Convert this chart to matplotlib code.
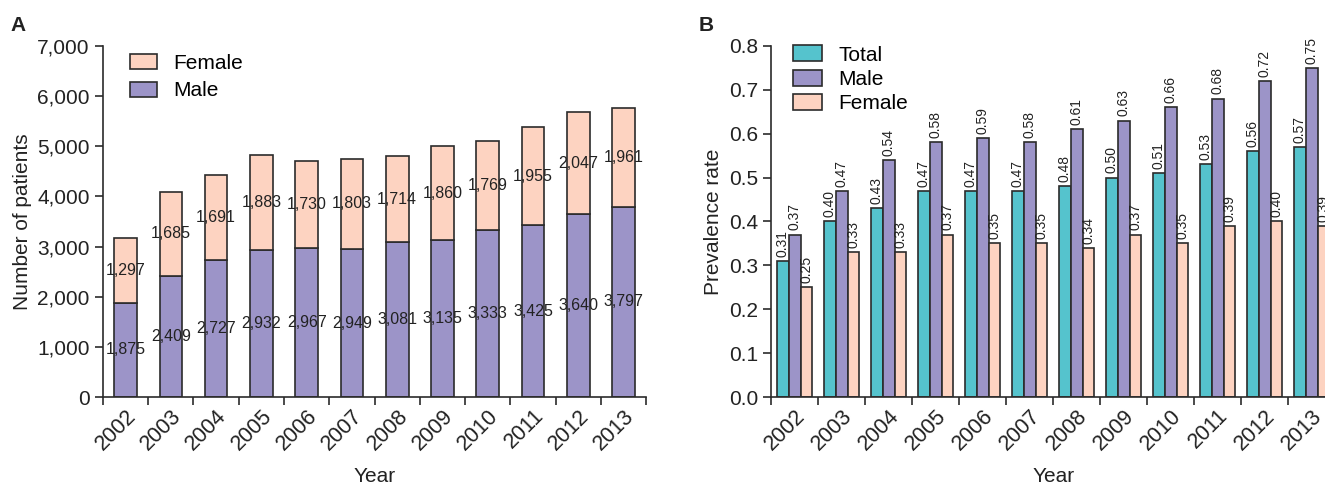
import numpy as np
import matplotlib
matplotlib.use('Agg')
import matplotlib.pyplot as plt
import matplotlib.ticker as plticker

plt.rcParams['font.family'] = ['Liberation Sans', 'DejaVu Sans']

# Data

years = ['2002', '2003', '2004', '2005', '2006', '2007',
         '2008', '2009', '2010', '2011', '2012', '2013']

male_n = [1875, 2409, 2727, 2932, 2967, 2949, 3081, 3135, 3333, 3425, 3640, 3797]
female_n = [1297, 1685, 1691, 1883, 1730, 1803, 1714, 1860, 1769, 1955, 2047, 1961]

total_rate = [0.31, 0.40, 0.43, 0.47, 0.47, 0.47, 0.48, 0.50, 0.51, 0.53, 0.56, 0.57]
male_rate = [0.37, 0.47, 0.54, 0.58, 0.59, 0.58, 0.61, 0.63, 0.66, 0.68, 0.72, 0.75]
female_rate = [0.25, 0.33, 0.33, 0.37, 0.35, 0.35, 0.34, 0.37, 0.35, 0.39, 0.40, 0.39]

# Colours

PEACH = '#FDD3C1'
PURPLE = '#9C94C8'
TEAL = '#55C3CD'
EDGE = '#2b2b2b'
TEXT = '#222222'

fig = plt.figure(figsize=(13.25, 4.83), dpi=100)

axA = fig.add_axes([0.0777, 0.178, 0.41, 0.727])
axB = fig.add_axes([0.582, 0.178, 0.4257, 0.727])

x = np.arange(len(years))


def style_axis(ax):
    for s in ['top', 'right']:
        ax.spines[s].set_visible(False)
    for s in ['left', 'bottom']:
        ax.spines[s].set_linewidth(1.2)
        ax.spines[s].set_color(EDGE)
    ax.set_xlim(-0.5, len(years) - 0.5)
    ax.xaxis.set_major_locator(plticker.FixedLocator(np.arange(-0.5, len(years), 1.0)))
    ax.xaxis.set_major_formatter(plticker.NullFormatter())
    ax.xaxis.set_minor_locator(plticker.FixedLocator(x))
    ax.xaxis.set_minor_formatter(plticker.FixedFormatter(years))
    ax.tick_params(axis='x', which='major', length=6, width=1.2, color=EDGE)
    ax.tick_params(axis='x', which='minor', length=0, pad=6, labelsize=15.5, labelcolor=TEXT)
    ax.tick_params(axis='y', length=6, width=1.2, color=EDGE, labelsize=15, labelcolor=TEXT)
    for lab in ax.xaxis.get_minorticklabels():
        lab.set_rotation(45)
        lab.set_ha('right')
        lab.set_rotation_mode('anchor')
    ax.set_xlabel('Year', fontsize=15, color=TEXT, labelpad=9)


# Panel A

w = 0.5
axA.bar(x, male_n, w, color=PURPLE, edgecolor=EDGE, lw=1.2, label='Male')
axA.bar(x, female_n, w, bottom=male_n, color=PEACH, edgecolor=EDGE, lw=1.2, label='Female')

for i in range(len(years)):
    axA.text(x[i], male_n[i] / 2.0, '{:,}'.format(male_n[i]),
             ha='center', va='center', fontsize=11.5, color=TEXT)
    axA.text(x[i], male_n[i] + female_n[i] / 2.0, '{:,}'.format(female_n[i]),
             ha='center', va='center', fontsize=11.5, color=TEXT)

axA.set_ylim(0, 7000)
axA.yaxis.set_major_locator(plticker.MultipleLocator(1000))
axA.yaxis.set_major_formatter(plticker.FuncFormatter(lambda v, p: '{:,.0f}'.format(v)))
style_axis(axA)
axA.set_ylabel('Number of patients', fontsize=15, color=TEXT)

h, l = axA.get_legend_handles_labels()
axA.legend(h[::-1], l[::-1], loc='upper left', bbox_to_anchor=(0.015, 1.03),
           frameon=False, fontsize=15, handlelength=1.3, handleheight=0.75,
           labelspacing=0.4, handletextpad=0.8)

# Panel B

bw = 0.25
bars = [(total_rate, TEAL, 'Total', -bw),
        (male_rate, PURPLE, 'Male', 0.0),
        (female_rate, PEACH, 'Female', bw)]

for vals, col, name, off in bars:
    axB.bar(x + off, vals, bw, color=col, edgecolor=EDGE, lw=1.2, label=name)
    for i in range(len(vals)):
        axB.annotate('{:.2f}'.format(vals[i]), (x[i] + off, vals[i]),
                     xytext=(0, 3), textcoords='offset points',
                     rotation=90, ha='center', va='bottom', fontsize=10, color=TEXT)

axB.set_ylim(0, 0.8)
axB.yaxis.set_major_locator(plticker.MultipleLocator(0.1))
axB.yaxis.set_major_formatter(plticker.FormatStrFormatter('%.1f'))
style_axis(axB)
axB.set_ylabel('Prevalence rate', fontsize=15, color=TEXT)

axB.legend(loc='upper left', bbox_to_anchor=(0.005, 1.055),
           frameon=False, fontsize=15, handlelength=1.4, handleheight=0.8,
           labelspacing=0.25, handletextpad=0.8)

fig.text(0.008, 0.935, 'A', fontsize=15, fontweight='bold', color=TEXT)
fig.text(0.527, 0.935, 'B', fontsize=15, fontweight='bold', color=TEXT)

fig.savefig('out.png', dpi=100)
